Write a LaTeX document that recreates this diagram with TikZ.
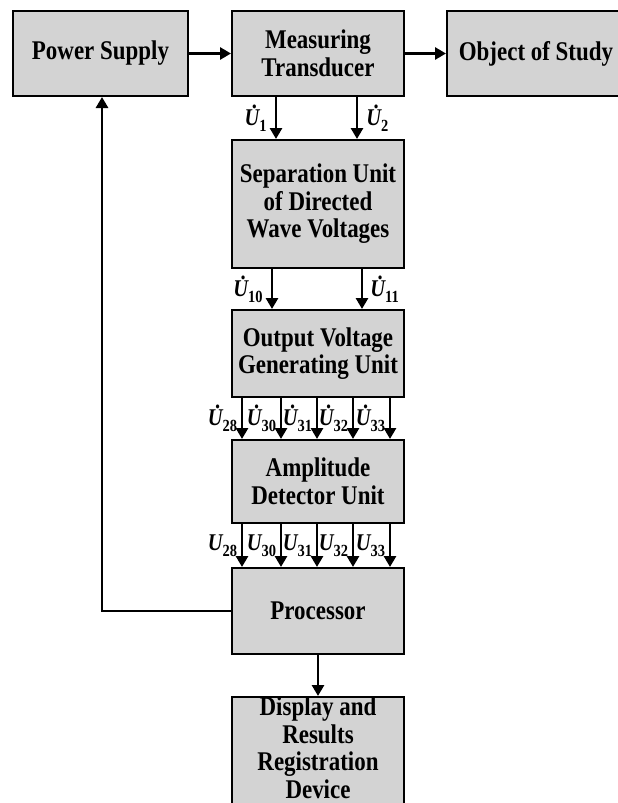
\documentclass[tikz,border=0pt]{standalone}
\usepackage{fontspec}
\setmainfont{Liberation Serif}[FakeStretch=0.85]
\usetikzlibrary{arrows.meta,positioning}
\definecolor{boxgray}{RGB}{211,211,211}
% dotted bold italic U with an upright bold subscript
\newcommand\volt[2][1]{{\bfseries\itshape
  \ifnum#1=1\leavevmode\rlap{\kern0.33em\raisebox{0.72em}{.}}\fi U}%
  \raisebox{-0.25em}{\fontsize{17}{17}\selectfont\bfseries #2}}
\begin{document}
\begin{tikzpicture}[x=1pt,y=-1pt,
  box/.style={draw=black,fill=boxgray,line width=2pt,align=center,
    inner sep=0pt,font=\fontsize{27}{27.5}\selectfont\bfseries},
  txt/.style={align=center,inner sep=0pt,font=\fontsize{27}{27.5}\selectfont\bfseries},
  arr/.style={line width=2.8pt,-{Triangle[length=11pt,width=12pt]}},
  lab/.style={inner sep=0pt,font=\fontsize{24}{24}\selectfont}]
\path[use as bounding box,clip] (0,0) rectangle (618,803);

% blocks
\node[box,minimum width=175,minimum height=85] (ps) at (100.5,53.5) {Power Supply};
\node[box,minimum width=172,minimum height=85] (mt) at (318,53.5) {Measuring\\Transducer};
\node[box,minimum width=178,minimum height=85] (oos) at (536,53.5) {Object of Study};
\node[box,minimum width=172,minimum height=128] (sep) at (318,204) {Separation Unit\\of Directed\\Wave Voltages};
\node[box,minimum width=172,minimum height=87] (ovg) at (318,353.5) {Output Voltage\\Generating Unit};
\node[box,minimum width=172,minimum height=83] (adu) at (318,481.5) {Amplitude\\Detector Unit};
\node[box,minimum width=172,minimum height=86] (proc) at (318,611) {Processor};
\node[box,minimum width=172,minimum height=116] (disp) at (318,755) {};
\node[txt,anchor=north] (dispt) at ([yshift=-1]disp.north) {Display and\\Results\\Registration\\Device};

% top row
\draw[arr] (ps.east) -- (mt.west);
\draw[arr] (mt.east) -- (oos.west);

% transducer to separation unit
\draw[arr] ([xshift=45]mt.south west) -- ([xshift=45]sep.north west)
  node[lab,midway,left=8pt] (l1) {\volt{1}};
\draw[arr] ([xshift=126]mt.south west) -- ([xshift=126]sep.north west)
  node[lab,midway,right=8pt] (l2) {\volt{2}};

% separation unit to output voltage unit
\draw[arr] ([xshift=41]sep.south west) -- ([xshift=41]ovg.north west)
  node[lab,midway,left=8pt] (l10) {\volt{10}};
\draw[arr] ([xshift=131]sep.south west) -- ([xshift=131]ovg.north west)
  node[lab,midway,right=7pt] (l11) {\volt{11}};

% five channels
\foreach \dx/\n [count=\i] in {11/28,50/30,86/31,122/32,159/33}{
  \draw[arr] ([xshift=\dx]ovg.south west) -- ([xshift=\dx]adu.north west)
    node[lab,midway,left=3.5pt] (ld\i) {\volt{\n}};
  \draw[arr] ([xshift=\dx]adu.south west) -- ([xshift=\dx]proc.north west)
    node[lab,midway,left=3.5pt] (la\i) {\volt[0]{\n}};
}

% processor outputs
\draw[arr] (proc.south) -- (disp.north);
\draw[arr] (proc.west) -| ([xshift=90]ps.south west);
\end{tikzpicture}
\end{document}
